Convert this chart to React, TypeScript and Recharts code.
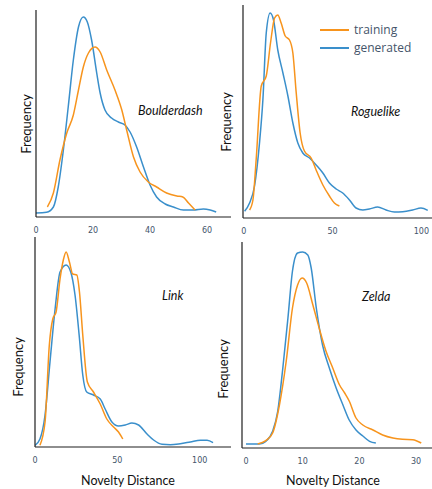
import React from 'react';
import { LineChart, Line, XAxis, YAxis } from 'recharts';

// Boulderdash
const boulderGenX = [0, 3.7, 6.1, 7.8, 9.6, 11.3, 13.1, 14.9, 16.6, 18.0, 19.5, 21.3, 22.5, 24.2, 26.5, 28.9, 31.2, 33.0, 35.3, 37.7, 40.0, 42.3, 45.3, 48.2, 51.7, 55.2, 58.7, 61.1, 63.2];
const boulderGenY = [4, 4.7, 10, 30, 67, 110, 157, 190, 200, 195, 177, 144, 124, 107, 99, 95, 92, 85, 70, 50, 32, 20, 13, 10, 7, 7, 8, 7, 5];
const boulderTrainX = [4.0, 6.1, 8.4, 10.8, 13.1, 14.9, 16.6, 18.4, 20.7, 22.5, 24.8, 27.7, 30.1, 31.8, 34.2, 36.5, 39.4, 42.3, 45.8, 49.4, 51.5, 53.5, 55.8];
const boulderTrainY = [10, 24, 57, 84, 102, 127, 150, 164, 170, 165, 147, 127, 107, 87, 60, 45, 35, 30, 24, 21, 20, 14, 7];

// Roguelike
const rogueGenX = [0.4, 3.2, 6.0, 8.8, 10.7, 12.6, 14.8, 16.7, 19.1, 22.0, 24.8, 27.6, 30.4, 33.2, 37.0, 40.7, 44.5, 48.2, 52.0, 55.7, 59.5, 63.2, 67.0, 70.7, 75.4, 80.1, 84.8, 89.5, 95.1, 99.8, 103.6];
const rogueGenY = [6.7, 15, 32, 75, 118, 185, 205, 198, 168, 145, 122, 95, 75, 65, 60, 53, 45, 35, 29, 25, 18, 10, 8, 9, 11, 8, 6, 6.3, 8, 10, 7.7];
const rogueTrainX = [3.2, 5.1, 6.9, 9.8, 12.6, 15.0, 17.3, 19.1, 21.0, 23.3, 25.7, 27.6, 29.5, 31.7, 34.1, 37.9, 40.7, 44.5, 48.2, 51.0, 53.8];
const rogueTrainY = [8, 18, 58, 132, 142, 175, 200, 203, 195, 182, 178, 165, 125, 85, 67, 60, 48, 33, 22, 15, 12];

// Link
const linkGenX = [0, 3.0, 6.1, 9.1, 12.2, 15.2, 18.9, 21.7, 24.3, 26.8, 29.0, 31.4, 35.5, 39.6, 42.6, 46.7, 50.7, 54.8, 58.8, 62.9, 68.0, 72.0, 77.1, 82.2, 88.2, 94.3, 100.4, 104.5, 108.1];
const linkGenY = [1.7, 8, 32, 85, 138, 175, 182, 175, 152, 112, 72, 55, 52, 48, 38, 25, 21, 22, 24, 22, 13, 7, 2.7, 2.3, 3.3, 5, 6.7, 6.7, 4.3];
const linkTrainX = [3.0, 6.1, 8.7, 10.8, 12.8, 15.2, 17.2, 18.9, 20.9, 22.9, 25.4, 27.0, 29.0, 31.8, 35.5, 39.6, 43.6, 47.7, 50.7, 53.3];
const linkTrainY = [1.7, 25, 102, 128, 135, 168, 187, 195, 185, 173, 172, 155, 112, 65, 55, 43, 28, 20, 15, 8];

// Zelda
const zeldaGenX = [0, 2.35, 3.5, 4.7, 5.6, 6.5, 7.4, 8.2, 9.1, 10.0, 10.9, 11.5, 12.4, 13.5, 14.7, 15.9, 17.1, 18.2, 19.4, 20.6, 21.8, 22.9];
const zeldaGenY = [4, 4, 6.7, 16.7, 36.7, 80, 130, 177, 195, 196, 193, 180, 140, 103, 80, 60, 43, 28, 18, 12, 6.7, 5];
const zeldaTrainX = [2.06, 3.5, 4.7, 5.9, 7.1, 8.2, 9.1, 9.9, 10.7, 11.8, 12.9, 14.1, 15.3, 16.5, 17.4, 18.2, 19.4, 20.6, 22.4, 24.1, 25.9, 27.6, 29.4, 30.9];
const zeldaTrainY = [4, 7.3, 15, 43, 87, 140, 163, 170, 165, 143, 120, 97, 80, 63, 55, 47, 30, 23, 18, 13, 10, 8.7, 8.3, 5];

const ORANGE = '#F7941D';
const BLUE = '#3A8FCB';
const TICK = '#44546A';
const AXIS = '#1f1f1f';
const PAD = 10; // room left of the y axis so the "0" tick is not cut

const zip = (xs: number[], ys: number[]) => xs.map((x, i) => ({ x, y: ys[i] }));

interface PanelProps {
  left: number;
  top: number;
  width: number;
  plotHeight: number;
  xDomain: [number, number];
  yMax: number;
  ticks: number[];
  gen: { x: number; y: number }[];
  train: { x: number; y: number }[];
}

function Panel({ left, top, width, plotHeight, xDomain, yMax, ticks, gen, train }: PanelProps) {
  return (
    <div style={{ position: 'absolute', left: left - PAD, top: top - 2 }}>
      <LineChart width={width + PAD + 4} height={plotHeight + 26} margin={{ top: 2, right: 4, bottom: 0, left: PAD - 1 }}>
        <XAxis
          type="number"
          dataKey="x"
          domain={xDomain}
          ticks={ticks}
          interval={0}
          allowDataOverflow
          height={24}
          tickLine={false}
          tickSize={6}
          tickMargin={4}
          axisLine
          stroke={AXIS}
          strokeWidth={1.2}
          tick={{ fill: TICK, fontSize: 8, fontFamily: 'DejaVu Sans' }}
        />
        <YAxis
          type="number"
          domain={[0, yMax]}
          allowDataOverflow
          width={1}
          tick={false}
          tickLine={false}
          axisLine
          stroke={AXIS}
          strokeWidth={1.2}
        />
        <Line data={gen} dataKey="y" type="monotone" stroke={BLUE} strokeWidth={1.5} dot={false} isAnimationActive={false} />
        <Line data={train} dataKey="y" type="monotone" stroke={ORANGE} strokeWidth={1.5} dot={false} isAnimationActive={false} />
      </LineChart>
    </div>
  );
}

const labelFont = { fontFamily: 'Lato', color: '#111' };

function Freq({ x, y }: { x: number; y: number }) {
  return (
    <div
      style={{
        ...labelFont,
        position: 'absolute',
        left: x - 40,
        top: y - 9,
        width: 80,
        height: 18,
        lineHeight: '18px',
        textAlign: 'center',
        fontSize: 13,
        transform: 'rotate(-90deg)',
      }}
    >
      Frequency
    </div>
  );
}

function Title({ x, y, text }: { x: number; y: number; text: string }) {
  return (
    <div
      style={{
        ...labelFont,
        position: 'absolute',
        left: x,
        top: y - 9,
        height: 18,
        lineHeight: '18px',
        fontSize: 12.5,
        fontStyle: 'italic',
        whiteSpace: 'nowrap',
      }}
    >
      {text}
    </div>
  );
}

function XTitle({ x, y }: { x: number; y: number }) {
  return (
    <div
      style={{
        ...labelFont,
        position: 'absolute',
        left: x - 60,
        top: y - 9,
        width: 120,
        height: 18,
        lineHeight: '18px',
        textAlign: 'center',
        fontSize: 12.5,
      }}
    >
      Novelty Distance
    </div>
  );
}

function LegendItem({ y, color, text }: { y: number; color: string; text: string }) {
  return (
    <>
      <div style={{ position: 'absolute', left: 320, top: y - 1, width: 29, height: 2, background: color }} />
      <div
        style={{
          position: 'absolute',
          left: 354,
          top: y - 9,
          height: 18,
          lineHeight: '18px',
          fontSize: 12,
          fontFamily: 'Open Sans',
          color: TICK,
        }}
      >
        {text}
      </div>
    </>
  );
}

export default function App() {
  return (
    <div style={{ position: 'absolute', left: 0, top: 0, width: 432, height: 489, background: '#fff', overflow: 'hidden' }}>
      <Panel
        left={36}
        top={10}
        width={195}
        plotHeight={207}
        xDomain={[0, 68.4]}
        yMax={207}
        ticks={[0, 20, 40, 60]}
        gen={zip(boulderGenX, boulderGenY)}
        train={zip(boulderTrainX, boulderTrainY)}
      />
      <Panel
        left={243}
        top={5}
        width={189}
        plotHeight={213}
        xDomain={[-0.5, 106]}
        yMax={213}
        ticks={[0, 50, 100]}
        gen={zip(rogueGenX, rogueGenY)}
        train={zip(rogueTrainX, rogueTrainY)}
      />
      <Panel
        left={35}
        top={237}
        width={196}
        plotHeight={210}
        xDomain={[0, 119]}
        yMax={210}
        ticks={[0, 50, 100]}
        gen={zip(linkGenX, linkGenY)}
        train={zip(linkTrainX, linkTrainY)}
      />
      <Panel
        left={242}
        top={242}
        width={190}
        plotHeight={206}
        xDomain={[-0.7, 32.8]}
        yMax={206}
        ticks={[0, 10, 20, 30]}
        gen={zip(zeldaGenX, zeldaGenY)}
        train={zip(zeldaTrainX, zeldaTrainY)}
      />

      <Freq x={26} y={124} />
      <Freq x={226} y={122} />
      <Freq x={18} y={367} />
      <Freq x={223} y={369} />

      <Title x={138} y={111} text="Boulderdash" />
      <Title x={351} y={112} text="Roguelike" />
      <Title x={162} y={296} text="Link" />
      <Title x={362} y={297} text="Zelda" />

      <XTitle x={128} y={481} />
      <XTitle x={333} y={481} />

      <LegendItem y={30} color={ORANGE} text="training" />
      <LegendItem y={48} color={BLUE} text="generated" />
    </div>
  );
}
